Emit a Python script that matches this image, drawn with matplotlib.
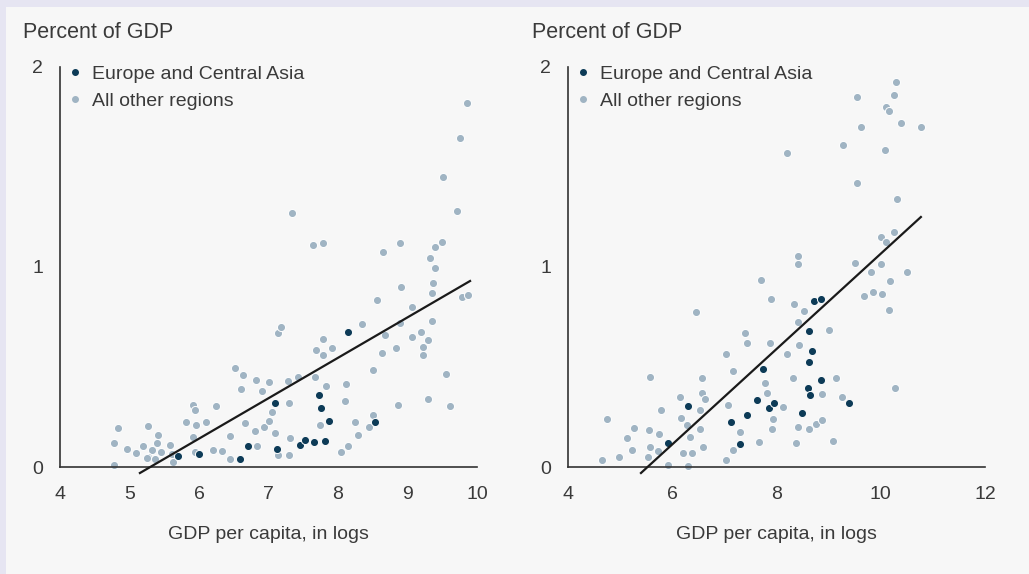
import matplotlib
matplotlib.use("Agg")
import matplotlib.pyplot as plt
from matplotlib.lines import Line2D
from matplotlib.patches import Rectangle

# left panel: points (GDP per capita in logs, percent of GDP)
left_other_x = [4.83, 4.78, 4.78, 4.96, 5.10, 5.27, 5.20, 5.32, 5.41, 5.45, 5.27, 5.37,
                5.58, 5.61, 5.63, 5.25, 5.39, 5.92, 5.94, 5.82, 5.96, 5.92, 5.94, 6.25,
                6.10, 6.20, 6.33, 6.52, 6.64, 6.61, 6.45, 6.45, 6.66, 6.82, 7.00, 6.90,
                6.80, 6.83, 6.94, 7.01, 7.05, 7.10, 7.14, 7.14, 7.18, 7.28, 7.43, 7.30,
                7.31, 7.30, 7.34, 7.64, 7.78, 7.67, 7.83, 7.74, 7.79, 7.68, 7.78, 7.91,
                8.05, 8.15, 8.29, 8.24, 8.10, 8.12, 8.34, 8.50, 8.44, 8.50, 8.56, 8.63,
                8.68, 8.83, 8.86, 8.89, 8.91, 8.65, 8.89, 9.07, 9.06, 9.20, 9.22, 9.23,
                9.30, 9.35, 9.35, 9.36, 9.40, 9.32, 9.40, 9.50, 9.30, 9.56, 9.61, 9.51,
                9.71, 9.76, 9.86, 9.78, 9.87]
left_other_y = [0.193, 0.12, 0.01, 0.088, 0.068, 0.205, 0.105, 0.085, 0.16, 0.077, 0.05, 0.038,
                0.11, 0.065, 0.027, 0.043, 0.118, 0.31, 0.285, 0.227, 0.21, 0.15, 0.077, 0.305,
                0.227, 0.085, 0.082, 0.497, 0.46, 0.388, 0.155, 0.038, 0.218, 0.435, 0.427, 0.38,
                0.18, 0.105, 0.198, 0.23, 0.277, 0.168, 0.06, 0.668, 0.70, 0.43, 0.45, 0.318,
                0.145, 0.06, 1.27, 1.11, 1.12, 0.45, 0.405, 0.21, 0.64, 0.585, 0.56, 0.593,
                0.077, 0.105, 0.16, 0.223, 0.33, 0.415, 0.713, 0.485, 0.20, 0.26, 0.835, 0.568,
                0.66, 0.593, 0.31, 0.718, 0.90, 1.075, 1.12, 0.80, 0.65, 0.677, 0.60, 0.56,
                0.635, 0.73, 0.87, 0.92, 0.995, 1.045, 1.10, 1.125, 0.338, 0.465, 0.307, 1.45,
                1.28, 1.645, 1.82, 0.85, 0.86]
left_eca_x = [5.70, 6.00, 6.59, 6.71, 7.09, 7.12, 7.45, 7.53, 7.66, 7.82, 7.72, 7.76,
              7.87, 8.14, 8.53]
left_eca_y = [0.055, 0.065, 0.038, 0.107, 0.322, 0.09, 0.11, 0.135, 0.125, 0.13, 0.36, 0.293,
              0.23, 0.673, 0.227]
left_fit_x = [5.15, 9.90]
left_fit_y = [-0.03, 0.93]

# right panel
right_other_x = [4.66, 4.75, 4.98, 5.13, 5.23, 5.26, 5.57, 5.56, 5.57, 5.54, 5.74, 5.78,
                 5.73, 5.91, 6.15, 6.17, 6.21, 6.29, 6.31, 6.35, 6.38, 6.46, 6.54, 6.54,
                 6.57, 6.57, 6.63, 6.59, 7.03, 7.03, 7.06, 7.16, 7.16, 7.30, 7.40, 7.43,
                 7.67, 7.71, 7.77, 7.81, 7.88, 7.89, 7.93, 7.91, 8.12, 8.21, 8.21, 8.32,
                 8.34, 8.37, 8.42, 8.42, 8.42, 8.42, 8.44, 8.52, 8.62, 8.75, 8.87, 8.88,
                 9.00, 9.09, 9.15, 9.25, 9.28, 9.50, 9.54, 9.54, 9.62, 9.68, 9.81, 9.85,
                 10.0, 10.0, 10.02, 10.08, 10.1, 10.1, 10.16, 10.16, 10.18, 10.25, 10.25, 10.27,
                 10.29, 10.31, 10.39, 10.5, 10.77]
right_other_y = [0.035, 0.238, 0.052, 0.147, 0.085, 0.197, 0.452, 0.185, 0.10, 0.052, 0.165, 0.285,
                 0.08, 0.008, 0.352, 0.243, 0.068, 0.21, 0.005, 0.152, 0.072, 0.777, 0.285, 0.188,
                 0.443, 0.368, 0.338, 0.10, 0.565, 0.035, 0.31, 0.482, 0.085, 0.177, 0.668, 0.618,
                 0.127, 0.935, 0.418, 0.368, 0.618, 0.838, 0.238, 0.188, 0.298, 0.565, 1.57, 0.443,
                 0.815, 0.118, 0.725, 0.202, 1.055, 1.015, 0.61, 0.78, 0.19, 0.215, 0.365, 0.235,
                 0.685, 0.132, 0.443, 0.348, 1.61, 1.02, 1.42, 1.85, 1.70, 0.855, 0.975, 0.875,
                 1.15, 1.015, 0.865, 1.585, 1.125, 1.80, 1.78, 0.785, 0.93, 1.175, 1.86, 0.393,
                 1.925, 1.34, 1.72, 0.975, 1.70]
right_eca_x = [5.92, 6.30, 7.13, 7.30, 7.44, 7.63, 7.75, 7.85, 7.96, 8.49, 8.63, 8.69,
               8.62, 8.61, 8.65, 8.86, 8.71, 8.86, 9.40]
right_eca_y = [0.12, 0.305, 0.227, 0.113, 0.26, 0.335, 0.49, 0.293, 0.32, 0.268, 0.682, 0.58,
               0.523, 0.393, 0.358, 0.435, 0.83, 0.838, 0.322]
right_fit_x = [5.40, 10.77]
right_fit_y = [-0.03, 1.25]

y_ticks = [0, 1, 2]
left_x_ticks = [4, 5, 6, 7, 8, 9, 10]
right_x_ticks = [4, 6, 8, 10, 12]
legend_labels = ["Europe and Central Asia", "All other regions"]
y_title = "Percent of GDP"
x_title = "GDP per capita, in logs"

ECA = "#0d3b57"
OTHER = "#a0b4c3"
TXT = "#3a3a3a"

plt.rcParams["font.family"] = ["Liberation Sans", "DejaVu Sans"]

fig = plt.figure(figsize=(10.29, 5.74), dpi=100, facecolor="#e6e5f2")
fig.patches.append(Rectangle((6 / 1029, 0), 1, 1 - 7 / 574, transform=fig.transFigure,
                             facecolor="#f7f7f7", edgecolor="none", zorder=-1))


def panel(rect, ox, oy, ex, ey, fx, fy, xticks, title_x):
    ax = fig.add_axes(rect)
    ax.set_facecolor("none")
    ax.scatter(ox, oy, s=34, color=OTHER, edgecolors="white", linewidths=0.7,
               zorder=2, clip_on=False)
    ax.scatter(ex, ey, s=34, color=ECA, edgecolors="white", linewidths=0.7,
               zorder=3, clip_on=False)
    ax.plot(fx, fy, color="#1a1a1a", lw=1.6, zorder=4, clip_on=False)
    ax.set_xlim(xticks[0], xticks[-1])
    ax.set_ylim(0, 2)
    ax.set_xticks(xticks)
    ax.set_yticks(y_ticks)
    for s in ["top", "right"]:
        ax.spines[s].set_visible(False)
    for s in ["left", "bottom"]:
        ax.spines[s].set_color("#333333")
        ax.spines[s].set_linewidth(1.2)
    ax.tick_params(axis="x", length=0, pad=14, labelsize=14, labelcolor=TXT)
    ax.tick_params(axis="y", length=0, pad=12, labelsize=14, labelcolor=TXT)
    ax.set_xlabel(x_title, fontsize=14, color=TXT, labelpad=16)
    fig.text(title_x, 1 - 32 / 574, y_title, fontsize=15.5, color=TXT, va="center")
    handles = [Line2D([], [], ls="none", marker="o", ms=4, color=ECA),
               Line2D([], [], ls="none", marker="o", ms=4, color=OTHER)]
    ax.legend(handles, legend_labels, loc="upper left", bbox_to_anchor=(0.025, 1.005),
              frameon=False, fontsize=14, labelcolor=TXT, handlelength=0.5,
              handletextpad=0.6, labelspacing=0.5, borderpad=0, borderaxespad=0)
    return ax


panel([60 / 1029, 1 - 467 / 574, 417 / 1029, 400 / 574],
      left_other_x, left_other_y, left_eca_x, left_eca_y, left_fit_x, left_fit_y,
      left_x_ticks, 23 / 1029)
panel([568 / 1029, 1 - 467 / 574, 417 / 1029, 400 / 574],
      right_other_x, right_other_y, right_eca_x, right_eca_y, right_fit_x, right_fit_y,
      right_x_ticks, 532 / 1029)

fig.savefig("out.png", dpi=100, facecolor=fig.get_facecolor())
